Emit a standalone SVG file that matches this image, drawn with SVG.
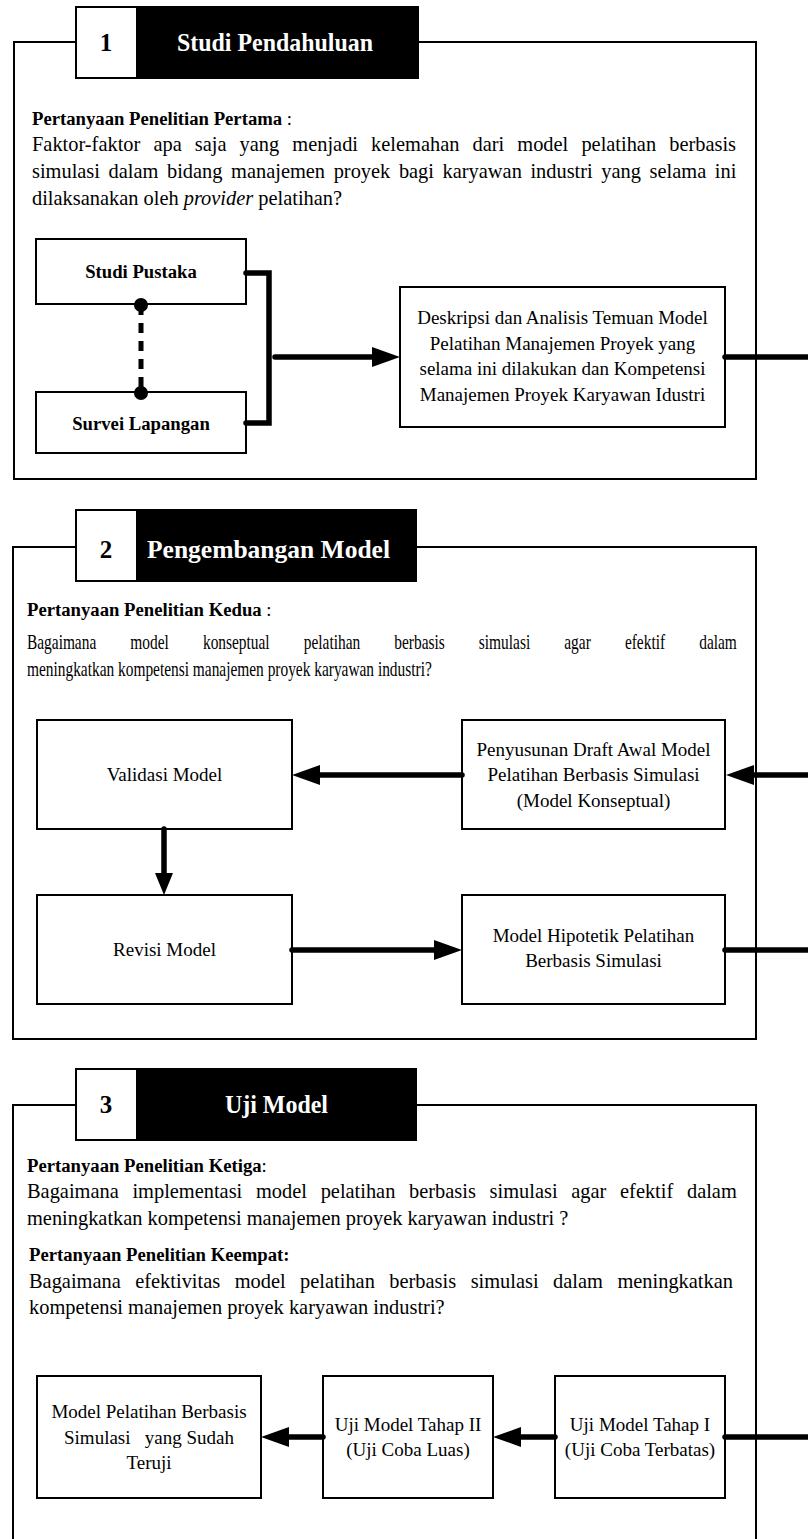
<svg xmlns="http://www.w3.org/2000/svg" width="808" height="1539" viewBox="0 0 808 1539">
<style>
.frame{fill:none;stroke:#000;stroke-width:2}
.box{fill:#fff;stroke:#000;stroke-width:2}
.hnum{fill:#fff;stroke:#000;stroke-width:2}
.hbar{fill:#000;stroke:#000;stroke-width:2}
text{font-family:"Liberation Serif","Times New Roman",serif;fill:#000}
.hn{font-size:25px;font-weight:bold;text-anchor:middle}
.htw{font-size:25px;font-weight:bold;fill:#fff}
.q{font-size:18.7px;font-weight:bold}
.b{font-size:20.4px}
.bt{font-size:19px;text-anchor:middle}
.bb{font-size:18.7px;font-weight:bold;text-anchor:middle}
.conn{fill:none;stroke:#000;stroke-width:5.5;stroke-linecap:round}
.dash{fill:none;stroke:#000;stroke-width:5;stroke-dasharray:10 8}
</style>
<defs>
<marker id="ah" markerUnits="userSpaceOnUse" markerWidth="30" markerHeight="22" refX="2" refY="10" orient="auto"><path d="M0,0 L28,10 L0,20 z" fill="#000"/></marker>
<marker id="ahs" markerUnits="userSpaceOnUse" markerWidth="24" markerHeight="20" refX="2" refY="9" orient="auto"><path d="M0,0 L22,9 L0,18 z" fill="#000"/></marker>
</defs>

<g id="section1">
<path class="frame" d="M76,42 H14 V479 H756 V42 H418"/>
<rect class="hnum" x="76" y="7" width="61" height="71"/>
<rect class="hbar" x="137" y="7" width="281" height="71"/>
<text class="hn" x="106" y="51">1</text>
<text class="htw" x="177" y="51" textLength="196" lengthAdjust="spacingAndGlyphs">Studi Pendahuluan</text>
<text class="q" x="32" y="125">Pertanyaan Penelitian Pertama<tspan font-weight="normal"> :</tspan></text>
<text class="b" x="32" y="151" word-spacing="8.0">Faktor-faktor apa saja yang menjadi kelemahan dari model pelatihan berbasis</text>
<text class="b" x="32" y="178" word-spacing="3.5">simulasi dalam bidang manajemen proyek bagi karyawan industri yang selama ini</text>
<text class="b" x="32" y="205">dilaksanakan oleh <tspan font-style="italic">provider</tspan> pelatihan?</text>
</g>

<g id="studi-pustaka">
<rect class="box" x="36" y="239" width="210" height="65"/>
<text class="bb" x="141" y="278">Studi Pustaka</text>
</g>
<g id="survei-lapangan">
<rect class="box" x="36" y="392" width="210" height="61"/>
<text class="bb" x="141" y="430">Survei Lapangan</text>
</g>
<g id="deskripsi">
<rect class="box" x="400" y="287" width="325" height="140"/>
<text class="bt" x="562.5" y="324">Deskripsi dan Analisis Temuan Model</text>
<text class="bt" x="562.5" y="350">Pelatihan Manajemen Proyek yang</text>
<text class="bt" x="562.5" y="375">selama ini dilakukan dan Kompetensi</text>
<text class="bt" x="562.5" y="401">Manajemen Proyek Karyawan Idustri</text>
</g>

<g id="section2">
<path class="frame" d="M76,547 H13 V1039 H756 V547 H416"/>
<rect class="hnum" x="76" y="510" width="61" height="71"/>
<rect class="hbar" x="137" y="510" width="279" height="71"/>
<text class="hn" x="106" y="558">2</text>
<text class="htw" x="147" y="558" textLength="243" lengthAdjust="spacingAndGlyphs">Pengembangan Model</text>
<text class="q" x="27" y="616">Pertanyaan Penelitian Kedua<tspan font-weight="normal"> :</tspan></text>
<g transform="translate(27,649) scale(0.755,1)"><text class="b" x="0" y="0" word-spacing="40.1">Bagaimana model konseptual pelatihan berbasis simulasi agar efektif dalam</text></g>
<g transform="translate(27,676) scale(0.755,1)"><text class="b" x="0" y="0">meningkatkan kompetensi manajemen proyek karyawan industri?</text></g>
</g>

<g id="validasi">
<rect class="box" x="37" y="720" width="255" height="109"/>
<text class="bt" x="164.5" y="781">Validasi Model</text>
</g>
<g id="penyusunan">
<rect class="box" x="462" y="720" width="263" height="109"/>
<text class="bt" x="593.5" y="756">Penyusunan Draft Awal Model</text>
<text class="bt" x="593.5" y="781">Pelatihan Berbasis Simulasi</text>
<text class="bt" x="593.5" y="807">(Model Konseptual)</text>
</g>
<g id="revisi">
<rect class="box" x="37" y="895" width="255" height="109"/>
<text class="bt" x="164.5" y="956">Revisi Model</text>
</g>
<g id="hipotetik">
<rect class="box" x="462" y="895" width="263" height="109"/>
<text class="bt" x="593.5" y="942">Model Hipotetik Pelatihan</text>
<text class="bt" x="593.5" y="967">Berbasis Simulasi</text>
</g>

<g id="section3">
<path class="frame" d="M76,1105 H13 V1545 M756,1545 V1105 H416"/>
<rect class="hnum" x="76" y="1069" width="61" height="71"/>
<rect class="hbar" x="137" y="1069" width="279" height="71"/>
<text class="hn" x="106" y="1113">3</text>
<text class="htw" x="225" y="1113" textLength="103" lengthAdjust="spacingAndGlyphs">Uji Model</text>
<text class="q" x="27" y="1172">Pertanyaan Penelitian Ketiga<tspan font-weight="normal">:</tspan></text>
<text class="b" x="27" y="1198" word-spacing="8.6">Bagaimana implementasi model pelatihan berbasis simulasi agar efektif dalam</text>
<text class="b" x="27" y="1225">meningkatkan kompetensi manajemen proyek karyawan industri ?</text>
<text class="q" x="29" y="1261">Pertanyaan Penelitian Keempat:</text>
<text class="b" x="29" y="1288" word-spacing="9.4">Bagaimana efektivitas model pelatihan berbasis simulasi dalam meningkatkan</text>
<text class="b" x="29" y="1314">kompetensi manajemen proyek karyawan industri?</text>
</g>

<g id="teruji">
<rect class="box" x="37" y="1376" width="224" height="122"/>
<text class="bt" x="149" y="1418">Model Pelatihan Berbasis</text>
<text class="bt" x="149" y="1444" xml:space="preserve">Simulasi   yang Sudah</text>
<text class="bt" x="149" y="1469">Teruji</text>
</g>
<g id="tahap2">
<rect class="box" x="323" y="1376" width="170" height="122"/>
<text class="bt" x="408" y="1431">Uji Model Tahap II</text>
<text class="bt" x="408" y="1456">(Uji Coba Luas)</text>
</g>
<g id="tahap1">
<rect class="box" x="555" y="1376" width="170" height="122"/>
<text class="bt" x="640" y="1431">Uji Model Tahap I</text>
<text class="bt" x="640" y="1456">(Uji Coba Terbatas)</text>
</g>

<g id="connectors">
<path class="conn" stroke-linejoin="miter" d="M246,273 H269 V423 H246"/>
<path class="conn" d="M275,357 H374" marker-end="url(#ah)"/>
<path class="conn" d="M725,357 H812"/>
<path class="dash" d="M141,305 V393"/>
<circle cx="141" cy="305" r="7" fill="#000"/>
<circle cx="141" cy="393" r="7" fill="#000"/>
<path class="conn" d="M812,775 H752" marker-end="url(#ah)"/>
<path class="conn" d="M462,775 H318" marker-end="url(#ah)"/>
<path class="conn" d="M164,829 V875" marker-end="url(#ahs)"/>
<path class="conn" d="M292,950 H436" marker-end="url(#ah)"/>
<path class="conn" d="M725,950 H812"/>
<path class="conn" d="M555,1437 H519" marker-end="url(#ah)"/>
<path class="conn" d="M323,1437 H287" marker-end="url(#ah)"/>
<path class="conn" d="M725,1437 H812"/>
</g>
</svg>
